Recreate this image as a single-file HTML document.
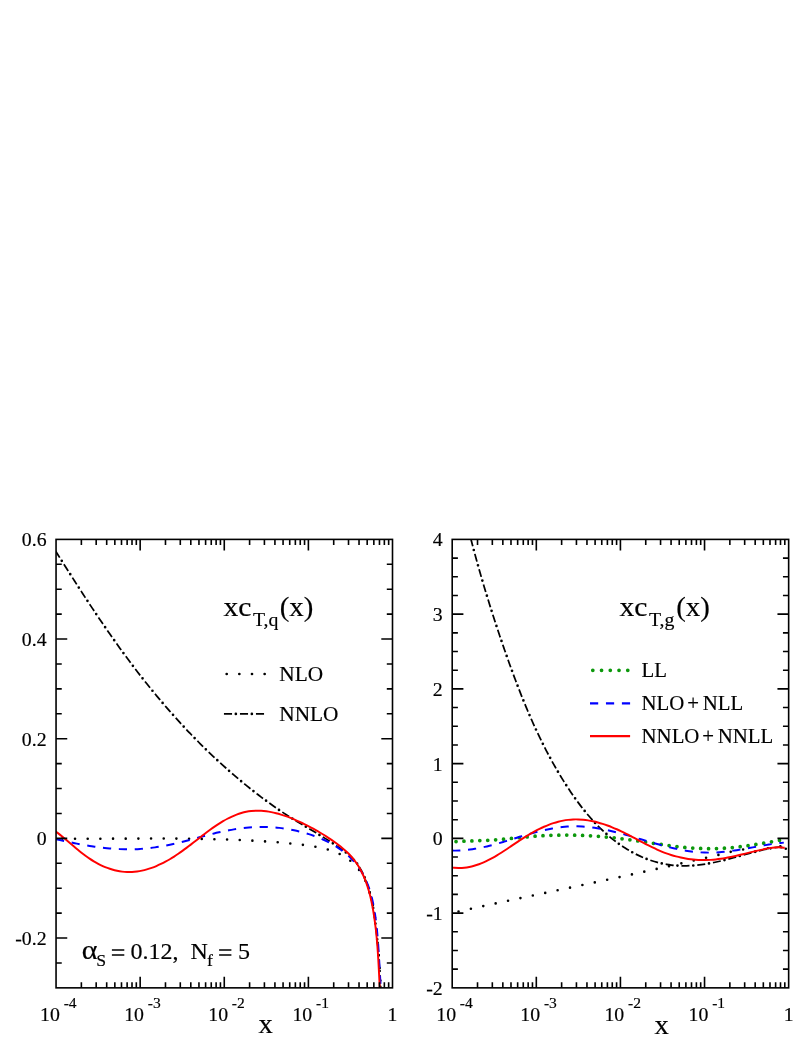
<!DOCTYPE html>
<html><head><meta charset="utf-8"><title>xc_T</title><style>html,body{margin:0;padding:0;background:#fff}svg{display:block;will-change:transform}text{font-family:"Liberation Serif",serif;fill:#000;stroke:#000;stroke-width:0.18px}</style></head><body>
<svg width="807" height="1044" viewBox="0 0 807 1044">
<defs><clipPath id="cl"><rect x="56.05" y="539.40" width="336.45" height="448.45"/></clipPath><clipPath id="cr"><rect x="452.20" y="539.40" width="336.45" height="448.45"/></clipPath></defs>
<g clip-path="url(#cl)" fill="none">
<path d="M49.82 838.44C50.66 838.46 53.16 838.49 54.82 838.51C56.49 838.53 58.16 838.55 59.82 838.57C61.49 838.59 63.16 838.60 64.83 838.62C66.49 838.63 68.16 838.64 69.83 838.65C71.49 838.66 73.16 838.67 74.83 838.68C76.50 838.69 78.16 838.69 79.83 838.70C81.50 838.70 83.16 838.71 84.83 838.71C86.50 838.71 88.17 838.71 89.83 838.71C91.50 838.71 93.17 838.71 94.83 838.71C96.50 838.71 98.17 838.71 99.84 838.71C101.50 838.70 103.17 838.70 104.84 838.70C106.50 838.69 108.17 838.69 109.84 838.68C111.51 838.68 113.17 838.67 114.84 838.67C116.51 838.66 118.17 838.66 119.84 838.65C121.51 838.65 123.18 838.64 124.84 838.63C126.51 838.63 128.18 838.62 129.84 838.62C131.51 838.61 133.18 838.60 134.85 838.60C136.51 838.59 138.18 838.59 139.85 838.59C141.51 838.58 143.18 838.58 144.85 838.57C146.52 838.57 148.18 838.57 149.85 838.57C151.52 838.56 153.18 838.56 154.85 838.56C156.52 838.56 158.18 838.56 159.85 838.57C161.52 838.57 163.19 838.57 164.85 838.57C166.52 838.58 168.19 838.58 169.85 838.59C171.52 838.60 173.19 838.60 174.86 838.61C176.52 838.62 178.19 838.63 179.86 838.65C181.52 838.66 183.19 838.67 184.86 838.69C186.53 838.70 188.19 838.72 189.86 838.74C191.53 838.76 193.19 838.78 194.86 838.81C196.53 838.83 198.19 838.85 199.86 838.88C201.53 838.91 203.20 838.94 204.86 838.97C206.53 839.00 208.20 839.04 209.86 839.08C211.53 839.11 213.20 839.15 214.86 839.19C216.53 839.24 218.20 839.28 219.86 839.33C221.53 839.38 223.20 839.43 224.86 839.48C226.53 839.53 228.19 839.59 229.86 839.65C231.53 839.71 233.19 839.77 234.86 839.83C236.52 839.90 238.19 839.97 239.86 840.04C241.52 840.11 243.19 840.19 244.85 840.27C246.52 840.35 248.18 840.43 249.85 840.51C251.51 840.60 253.18 840.69 254.84 840.78C256.51 840.88 258.17 840.97 259.83 841.08C261.50 841.18 263.16 841.28 264.83 841.39C266.49 841.50 268.15 841.61 269.82 841.73C271.48 841.85 273.14 841.97 274.80 842.09C276.47 842.22 278.13 842.35 279.79 842.49C281.45 842.62 283.11 842.76 284.77 842.91C286.43 843.06 288.09 843.21 289.75 843.37C291.41 843.54 293.07 843.71 294.73 843.89C296.38 844.07 298.04 844.26 299.70 844.46C301.35 844.67 303.00 844.88 304.65 845.11C306.31 845.34 307.96 845.58 309.60 845.84C311.25 846.10 312.89 846.37 314.54 846.66C316.18 846.95 317.82 847.25 319.45 847.59C321.08 847.92 322.72 848.27 324.34 848.66C325.95 849.06 327.57 849.48 329.17 849.95C330.76 850.43 332.35 850.94 333.92 851.52C335.48 852.10 337.03 852.72 338.54 853.42C340.05 854.12 341.54 854.89 342.98 855.72C344.42 856.55 345.84 857.44 347.20 858.40C348.56 859.36 349.89 860.38 351.15 861.46C352.42 862.54 353.65 863.68 354.80 864.88C355.96 866.07 357.07 867.33 358.10 868.63C359.14 869.94 360.10 871.30 361.01 872.70C361.91 874.10 362.74 875.55 363.52 877.02C364.30 878.49 365.02 880.00 365.69 881.53C366.37 883.05 366.99 884.60 367.57 886.16C368.16 887.72 368.70 889.30 369.21 890.89C369.72 892.47 370.19 894.07 370.64 895.68C371.08 897.29 371.49 898.90 371.88 900.53C372.26 902.15 372.61 903.78 372.94 905.41C373.27 907.05 373.57 908.69 373.86 910.33C374.14 911.97 374.40 913.62 374.64 915.27C374.89 916.92 375.11 918.57 375.32 920.22C375.53 921.88 375.73 923.53 375.91 925.19C376.10 926.85 376.27 928.50 376.44 930.16C376.61 931.82 376.77 933.48 376.93 935.14C377.08 936.80 377.24 938.46 377.39 940.12C377.54 941.78 377.70 943.44 377.84 945.10C377.99 946.76 378.14 948.42 378.29 950.08C378.43 951.74 378.58 953.40 378.71 955.07C378.85 956.73 378.99 958.39 379.11 960.05C379.24 961.71 379.37 963.38 379.48 965.04C379.60 966.70 379.71 968.37 379.82 970.03C379.92 971.69 380.02 973.36 380.11 975.02C380.20 976.69 380.28 978.35 380.35 980.02C380.42 981.68 380.49 983.35 380.54 985.02C380.59 986.68 380.63 988.35 380.66 990.02C380.70 991.68 380.71 994.18 380.72 995.02" stroke="#000" stroke-width="2.6" stroke-linecap="round" stroke-dasharray="0 12.672" stroke-dashoffset="0.139"/>
<path d="M50.20 542.37C50.65 543.09 51.98 545.22 52.87 546.65C53.77 548.07 54.66 549.50 55.55 550.92C56.44 552.35 57.34 553.77 58.23 555.19C59.12 556.62 60.02 558.04 60.91 559.46C61.81 560.88 62.70 562.31 63.60 563.73C64.50 565.15 65.40 566.57 66.29 567.99C67.19 569.41 68.09 570.83 68.99 572.25C69.90 573.67 70.80 575.08 71.70 576.50C72.61 577.92 73.51 579.33 74.42 580.75C75.32 582.17 76.23 583.58 77.14 584.99C78.05 586.41 78.96 587.82 79.87 589.23C80.79 590.64 81.70 592.05 82.62 593.46C83.53 594.87 84.45 596.28 85.37 597.69C86.29 599.09 87.21 600.50 88.13 601.90C89.06 603.31 89.98 604.71 90.91 606.11C91.84 607.51 92.77 608.91 93.70 610.31C94.63 611.71 95.57 613.11 96.50 614.50C97.44 615.90 98.38 617.29 99.32 618.68C100.26 620.08 101.21 621.47 102.15 622.85C103.10 624.24 104.05 625.63 105.00 627.02C105.95 628.40 106.91 629.78 107.87 631.17C108.82 632.55 109.78 633.93 110.75 635.30C111.71 636.68 112.68 638.06 113.64 639.43C114.61 640.80 115.59 642.17 116.56 643.54C117.54 644.91 118.52 646.28 119.50 647.64C120.48 649.01 121.46 650.37 122.45 651.73C123.44 653.09 124.43 654.44 125.43 655.80C126.42 657.15 127.42 658.50 128.42 659.85C129.43 661.20 130.43 662.55 131.44 663.89C132.45 665.23 133.47 666.58 134.48 667.91C135.50 669.25 136.52 670.59 137.55 671.92C138.57 673.25 139.60 674.58 140.63 675.91C141.66 677.23 142.70 678.56 143.74 679.88C144.78 681.20 145.83 682.51 146.87 683.83C147.92 685.14 148.98 686.45 150.03 687.76C151.09 689.06 152.15 690.37 153.22 691.67C154.28 692.97 155.35 694.26 156.42 695.56C157.50 696.85 158.58 698.14 159.66 699.42C160.74 700.71 161.83 701.99 162.92 703.27C164.01 704.55 165.10 705.83 166.20 707.10C167.30 708.37 168.40 709.64 169.51 710.90C170.62 712.16 171.73 713.42 172.85 714.68C173.97 715.94 175.09 717.19 176.21 718.44C177.34 719.69 178.47 720.93 179.60 722.17C180.74 723.41 181.87 724.65 183.02 725.88C184.16 727.11 185.31 728.34 186.46 729.56C187.61 730.79 188.77 732.00 189.93 733.22C191.09 734.43 192.26 735.65 193.43 736.85C194.60 738.06 195.77 739.26 196.95 740.46C198.13 741.65 199.32 742.85 200.51 744.03C201.69 745.22 202.89 746.41 204.09 747.58C205.28 748.76 206.49 749.94 207.69 751.11C208.90 752.28 210.11 753.44 211.33 754.60C212.55 755.76 213.77 756.91 215.00 758.06C216.22 759.21 217.45 760.36 218.69 761.50C219.92 762.64 221.16 763.77 222.41 764.90C223.65 766.03 224.90 767.15 226.16 768.27C227.41 769.39 228.67 770.50 229.94 771.61C231.20 772.72 232.47 773.82 233.74 774.91C235.02 776.01 236.30 777.10 237.58 778.19C238.86 779.27 240.15 780.35 241.44 781.42C242.74 782.50 244.04 783.57 245.34 784.63C246.64 785.69 247.95 786.75 249.26 787.80C250.57 788.85 251.89 789.89 253.21 790.93C254.53 791.97 255.86 793.00 257.19 794.03C258.52 795.05 259.86 796.07 261.20 797.08C262.54 798.10 263.89 799.10 265.24 800.10C266.59 801.10 267.95 802.09 269.31 803.07C270.67 804.06 272.04 805.04 273.41 806.00C274.79 806.97 276.17 807.93 277.55 808.89C278.94 809.84 280.33 810.79 281.72 811.72C283.12 812.66 284.52 813.59 285.93 814.50C287.33 815.42 288.75 816.33 290.16 817.23C291.58 818.13 293.01 819.03 294.44 819.91C295.87 820.79 297.31 821.66 298.74 822.53C300.18 823.40 301.63 824.26 303.07 825.13C304.51 825.99 305.96 826.84 307.41 827.70C308.85 828.56 310.30 829.41 311.74 830.27C313.19 831.13 314.63 831.99 316.07 832.85C317.51 833.72 318.95 834.59 320.39 835.46C321.82 836.34 323.25 837.22 324.67 838.12C326.10 839.01 327.52 839.91 328.93 840.82C330.34 841.73 331.75 842.64 333.15 843.57C334.56 844.50 335.95 845.44 337.34 846.39C338.72 847.34 340.10 848.30 341.48 849.27C342.85 850.24 344.22 851.21 345.56 852.22C346.91 853.23 348.26 854.23 349.54 855.32C350.81 856.42 352.05 857.56 353.20 858.78C354.35 860.00 355.42 861.31 356.43 862.65C357.44 863.99 358.36 865.40 359.24 866.83C360.12 868.26 360.94 869.74 361.71 871.23C362.48 872.72 363.20 874.24 363.89 875.78C364.58 877.31 365.22 878.86 365.83 880.43C366.44 881.99 367.01 883.58 367.55 885.17C368.09 886.76 368.59 888.36 369.06 889.98C369.54 891.59 369.98 893.21 370.39 894.84C370.80 896.47 371.19 898.11 371.55 899.75C371.91 901.39 372.24 903.04 372.56 904.69C372.87 906.34 373.16 907.99 373.44 909.65C373.72 911.31 373.98 912.97 374.22 914.63C374.47 916.30 374.70 917.96 374.92 919.63C375.14 921.29 375.35 922.96 375.55 924.63C375.76 926.30 375.96 927.97 376.15 929.64C376.34 931.31 376.52 932.98 376.70 934.65C376.88 936.32 377.06 937.99 377.22 939.66C377.39 941.33 377.55 943.01 377.71 944.68C377.86 946.35 378.01 948.03 378.15 949.70C378.29 951.38 378.43 953.05 378.56 954.73C378.69 956.40 378.82 958.08 378.93 959.76C379.05 961.43 379.16 963.11 379.27 964.79C379.38 966.47 379.48 968.14 379.57 969.82C379.67 971.50 379.76 973.18 379.84 974.86C379.92 976.53 380.00 978.21 380.07 979.89C380.14 981.57 380.21 983.25 380.27 984.93C380.32 986.61 380.38 988.29 380.43 989.97C380.47 991.65 380.53 994.17 380.55 995.01" stroke="#000" stroke-width="1.75" stroke-dasharray="8.026 7.828" stroke-dashoffset="5.923"/><path d="M50.20 542.37C50.65 543.09 51.98 545.22 52.87 546.65C53.77 548.07 54.66 549.50 55.55 550.92C56.44 552.35 57.34 553.77 58.23 555.19C59.12 556.62 60.02 558.04 60.91 559.46C61.81 560.88 62.70 562.31 63.60 563.73C64.50 565.15 65.40 566.57 66.29 567.99C67.19 569.41 68.09 570.83 68.99 572.25C69.90 573.67 70.80 575.08 71.70 576.50C72.61 577.92 73.51 579.33 74.42 580.75C75.32 582.17 76.23 583.58 77.14 584.99C78.05 586.41 78.96 587.82 79.87 589.23C80.79 590.64 81.70 592.05 82.62 593.46C83.53 594.87 84.45 596.28 85.37 597.69C86.29 599.09 87.21 600.50 88.13 601.90C89.06 603.31 89.98 604.71 90.91 606.11C91.84 607.51 92.77 608.91 93.70 610.31C94.63 611.71 95.57 613.11 96.50 614.50C97.44 615.90 98.38 617.29 99.32 618.68C100.26 620.08 101.21 621.47 102.15 622.85C103.10 624.24 104.05 625.63 105.00 627.02C105.95 628.40 106.91 629.78 107.87 631.17C108.82 632.55 109.78 633.93 110.75 635.30C111.71 636.68 112.68 638.06 113.64 639.43C114.61 640.80 115.59 642.17 116.56 643.54C117.54 644.91 118.52 646.28 119.50 647.64C120.48 649.01 121.46 650.37 122.45 651.73C123.44 653.09 124.43 654.44 125.43 655.80C126.42 657.15 127.42 658.50 128.42 659.85C129.43 661.20 130.43 662.55 131.44 663.89C132.45 665.23 133.47 666.58 134.48 667.91C135.50 669.25 136.52 670.59 137.55 671.92C138.57 673.25 139.60 674.58 140.63 675.91C141.66 677.23 142.70 678.56 143.74 679.88C144.78 681.20 145.83 682.51 146.87 683.83C147.92 685.14 148.98 686.45 150.03 687.76C151.09 689.06 152.15 690.37 153.22 691.67C154.28 692.97 155.35 694.26 156.42 695.56C157.50 696.85 158.58 698.14 159.66 699.42C160.74 700.71 161.83 701.99 162.92 703.27C164.01 704.55 165.10 705.83 166.20 707.10C167.30 708.37 168.40 709.64 169.51 710.90C170.62 712.16 171.73 713.42 172.85 714.68C173.97 715.94 175.09 717.19 176.21 718.44C177.34 719.69 178.47 720.93 179.60 722.17C180.74 723.41 181.87 724.65 183.02 725.88C184.16 727.11 185.31 728.34 186.46 729.56C187.61 730.79 188.77 732.00 189.93 733.22C191.09 734.43 192.26 735.65 193.43 736.85C194.60 738.06 195.77 739.26 196.95 740.46C198.13 741.65 199.32 742.85 200.51 744.03C201.69 745.22 202.89 746.41 204.09 747.58C205.28 748.76 206.49 749.94 207.69 751.11C208.90 752.28 210.11 753.44 211.33 754.60C212.55 755.76 213.77 756.91 215.00 758.06C216.22 759.21 217.45 760.36 218.69 761.50C219.92 762.64 221.16 763.77 222.41 764.90C223.65 766.03 224.90 767.15 226.16 768.27C227.41 769.39 228.67 770.50 229.94 771.61C231.20 772.72 232.47 773.82 233.74 774.91C235.02 776.01 236.30 777.10 237.58 778.19C238.86 779.27 240.15 780.35 241.44 781.42C242.74 782.50 244.04 783.57 245.34 784.63C246.64 785.69 247.95 786.75 249.26 787.80C250.57 788.85 251.89 789.89 253.21 790.93C254.53 791.97 255.86 793.00 257.19 794.03C258.52 795.05 259.86 796.07 261.20 797.08C262.54 798.10 263.89 799.10 265.24 800.10C266.59 801.10 267.95 802.09 269.31 803.07C270.67 804.06 272.04 805.04 273.41 806.00C274.79 806.97 276.17 807.93 277.55 808.89C278.94 809.84 280.33 810.79 281.72 811.72C283.12 812.66 284.52 813.59 285.93 814.50C287.33 815.42 288.75 816.33 290.16 817.23C291.58 818.13 293.01 819.03 294.44 819.91C295.87 820.79 297.31 821.66 298.74 822.53C300.18 823.40 301.63 824.26 303.07 825.13C304.51 825.99 305.96 826.84 307.41 827.70C308.85 828.56 310.30 829.41 311.74 830.27C313.19 831.13 314.63 831.99 316.07 832.85C317.51 833.72 318.95 834.59 320.39 835.46C321.82 836.34 323.25 837.22 324.67 838.12C326.10 839.01 327.52 839.91 328.93 840.82C330.34 841.73 331.75 842.64 333.15 843.57C334.56 844.50 335.95 845.44 337.34 846.39C338.72 847.34 340.10 848.30 341.48 849.27C342.85 850.24 344.22 851.21 345.56 852.22C346.91 853.23 348.26 854.23 349.54 855.32C350.81 856.42 352.05 857.56 353.20 858.78C354.35 860.00 355.42 861.31 356.43 862.65C357.44 863.99 358.36 865.40 359.24 866.83C360.12 868.26 360.94 869.74 361.71 871.23C362.48 872.72 363.20 874.24 363.89 875.78C364.58 877.31 365.22 878.86 365.83 880.43C366.44 881.99 367.01 883.58 367.55 885.17C368.09 886.76 368.59 888.36 369.06 889.98C369.54 891.59 369.98 893.21 370.39 894.84C370.80 896.47 371.19 898.11 371.55 899.75C371.91 901.39 372.24 903.04 372.56 904.69C372.87 906.34 373.16 907.99 373.44 909.65C373.72 911.31 373.98 912.97 374.22 914.63C374.47 916.30 374.70 917.96 374.92 919.63C375.14 921.29 375.35 922.96 375.55 924.63C375.76 926.30 375.96 927.97 376.15 929.64C376.34 931.31 376.52 932.98 376.70 934.65C376.88 936.32 377.06 937.99 377.22 939.66C377.39 941.33 377.55 943.01 377.71 944.68C377.86 946.35 378.01 948.03 378.15 949.70C378.29 951.38 378.43 953.05 378.56 954.73C378.69 956.40 378.82 958.08 378.93 959.76C379.05 961.43 379.16 963.11 379.27 964.79C379.38 966.47 379.48 968.14 379.57 969.82C379.67 971.50 379.76 973.18 379.84 974.86C379.92 976.53 380.00 978.21 380.07 979.89C380.14 981.57 380.21 983.25 380.27 984.93C380.32 986.61 380.38 988.29 380.43 989.97C380.47 991.65 380.53 994.17 380.55 995.01" stroke="#000" stroke-width="2.7" stroke-linecap="round" stroke-dasharray="0 15.854" stroke-dashoffset="9.936"/>
<path d="M50.07 837.75C50.89 837.94 53.35 838.53 54.99 838.91C56.63 839.29 58.27 839.66 59.92 840.04C61.56 840.41 63.20 840.78 64.85 841.14C66.50 841.50 68.14 841.85 69.79 842.20C71.44 842.54 73.09 842.88 74.74 843.21C76.39 843.54 78.05 843.87 79.70 844.18C81.36 844.49 83.01 844.79 84.67 845.08C86.33 845.37 87.99 845.65 89.66 845.92C91.32 846.19 92.99 846.44 94.65 846.69C96.32 846.93 97.99 847.16 99.66 847.37C101.33 847.58 103.00 847.78 104.68 847.96C106.35 848.15 108.03 848.31 109.71 848.46C111.39 848.61 113.07 848.74 114.75 848.85C116.43 848.96 118.11 849.06 119.79 849.13C121.48 849.20 123.16 849.26 124.84 849.29C126.53 849.32 128.21 849.33 129.90 849.31C131.58 849.30 133.27 849.26 134.95 849.20C136.63 849.14 138.32 849.05 140.00 848.94C141.68 848.83 143.36 848.70 145.03 848.54C146.71 848.39 148.39 848.21 150.06 848.02C151.73 847.82 153.40 847.60 155.07 847.36C156.74 847.13 158.40 846.87 160.07 846.59C161.73 846.32 163.39 846.02 165.04 845.71C166.70 845.40 168.35 845.07 170.00 844.73C171.65 844.39 173.30 844.03 174.94 843.65C176.58 843.28 178.22 842.89 179.86 842.49C181.49 842.09 183.12 841.67 184.76 841.25C186.39 840.83 188.01 840.39 189.64 839.96C191.27 839.52 192.89 839.07 194.52 838.63C196.14 838.19 197.77 837.74 199.39 837.29C201.02 836.85 202.64 836.41 204.27 835.97C205.90 835.54 207.52 835.10 209.16 834.69C210.79 834.27 212.42 833.85 214.06 833.46C215.70 833.06 217.34 832.68 218.98 832.31C220.62 831.94 222.27 831.58 223.92 831.24C225.57 830.90 227.22 830.58 228.88 830.27C230.54 829.97 232.20 829.68 233.86 829.41C235.52 829.14 237.19 828.88 238.86 828.65C240.52 828.43 242.20 828.21 243.87 828.03C245.54 827.84 247.22 827.68 248.90 827.54C250.58 827.39 252.26 827.28 253.94 827.19C255.62 827.10 257.31 827.03 258.99 826.99C260.67 826.95 262.36 826.94 264.04 826.96C265.73 826.97 267.41 827.02 269.10 827.09C270.78 827.17 272.46 827.27 274.14 827.40C275.82 827.53 277.50 827.70 279.17 827.88C280.84 828.07 282.52 828.29 284.18 828.53C285.85 828.78 287.51 829.05 289.17 829.34C290.83 829.64 292.48 829.96 294.13 830.31C295.78 830.66 297.42 831.04 299.06 831.44C300.69 831.84 302.32 832.27 303.95 832.72C305.57 833.17 307.18 833.65 308.79 834.15C310.40 834.66 312.00 835.19 313.59 835.75C315.17 836.31 316.75 836.90 318.32 837.52C319.88 838.15 321.44 838.80 322.97 839.49C324.51 840.18 326.03 840.90 327.53 841.66C329.04 842.42 330.52 843.22 331.99 844.05C333.45 844.89 334.89 845.76 336.31 846.67C337.73 847.58 339.13 848.52 340.49 849.51C341.86 850.49 343.20 851.51 344.51 852.57C345.82 853.63 347.10 854.73 348.34 855.87C349.58 857.01 350.79 858.18 351.96 859.40C353.12 860.61 354.25 861.86 355.33 863.15C356.42 864.44 357.46 865.77 358.44 867.14C359.43 868.50 360.37 869.90 361.26 871.33C362.14 872.77 362.97 874.23 363.76 875.72C364.54 877.21 365.27 878.74 365.96 880.27C366.65 881.81 367.29 883.37 367.89 884.94C368.49 886.52 369.04 888.11 369.56 889.71C370.09 891.31 370.57 892.93 371.02 894.55C371.47 896.17 371.88 897.81 372.27 899.45C372.66 901.08 373.01 902.73 373.35 904.38C373.68 906.03 373.98 907.69 374.27 909.35C374.56 911.01 374.82 912.68 375.07 914.34C375.32 916.01 375.55 917.68 375.76 919.35C375.98 921.02 376.18 922.69 376.37 924.37C376.56 926.04 376.73 927.71 376.90 929.39C377.07 931.07 377.23 932.74 377.38 934.42C377.53 936.10 377.67 937.78 377.81 939.46C377.95 941.14 378.07 942.82 378.19 944.50C378.32 946.18 378.43 947.86 378.54 949.54C378.65 951.22 378.76 952.90 378.86 954.58C378.96 956.26 379.06 957.94 379.15 959.63C379.25 961.31 379.34 962.99 379.43 964.67C379.53 966.35 379.62 968.04 379.71 969.72C379.80 971.40 379.89 973.08 379.98 974.77C380.08 976.45 380.17 978.13 380.27 979.81C380.37 981.49 380.47 983.17 380.57 984.86C380.68 986.54 380.78 988.22 380.90 989.90C381.01 991.58 381.20 994.10 381.26 994.94" stroke="#0000ff" stroke-width="1.95" stroke-dasharray="8.2 7.7" stroke-dashoffset="9.709"/>
<path d="M50.06 827.55C50.75 828.02 52.86 829.40 54.23 830.37C55.59 831.34 56.93 832.35 58.26 833.37C59.59 834.40 60.90 835.45 62.20 836.51C63.50 837.57 64.78 838.65 66.06 839.74C67.34 840.82 68.61 841.92 69.89 843.01C71.16 844.10 72.43 845.20 73.71 846.28C74.99 847.37 76.27 848.46 77.56 849.53C78.85 850.60 80.15 851.66 81.47 852.70C82.78 853.74 84.11 854.76 85.47 855.76C86.82 856.75 88.19 857.72 89.58 858.65C90.97 859.59 92.39 860.49 93.83 861.35C95.27 862.21 96.73 863.04 98.22 863.82C99.70 864.59 101.21 865.34 102.74 866.02C104.27 866.71 105.82 867.36 107.39 867.94C108.96 868.53 110.55 869.07 112.16 869.54C113.77 870.02 115.40 870.44 117.04 870.79C118.68 871.13 120.34 871.42 122.00 871.63C123.66 871.84 125.34 871.99 127.01 872.05C128.69 872.11 130.37 872.09 132.05 872.01C133.72 871.92 135.39 871.74 137.05 871.51C138.71 871.28 140.37 870.98 142.01 870.62C143.64 870.27 145.27 869.85 146.88 869.39C148.50 868.92 150.09 868.40 151.68 867.85C153.26 867.29 154.82 866.68 156.37 866.03C157.92 865.39 159.45 864.70 160.96 863.98C162.48 863.25 163.97 862.49 165.45 861.69C166.93 860.90 168.39 860.07 169.83 859.22C171.28 858.36 172.70 857.48 174.11 856.57C175.52 855.67 176.92 854.73 178.30 853.79C179.69 852.84 181.06 851.87 182.42 850.89C183.78 849.91 185.13 848.91 186.47 847.90C187.81 846.90 189.15 845.88 190.48 844.86C191.81 843.83 193.13 842.80 194.46 841.78C195.78 840.75 197.11 839.71 198.43 838.68C199.75 837.65 201.08 836.62 202.41 835.60C203.74 834.57 205.07 833.55 206.41 832.55C207.75 831.54 209.10 830.54 210.46 829.55C211.82 828.57 213.18 827.60 214.57 826.65C215.95 825.70 217.34 824.76 218.75 823.85C220.17 822.95 221.59 822.06 223.04 821.21C224.48 820.36 225.94 819.53 227.43 818.75C228.91 817.97 230.41 817.21 231.94 816.52C233.46 815.82 235.01 815.16 236.58 814.57C238.15 813.97 239.74 813.43 241.34 812.95C242.95 812.48 244.58 812.07 246.23 811.74C247.87 811.41 249.53 811.15 251.20 810.98C252.87 810.80 254.55 810.71 256.22 810.68C257.90 810.65 259.58 810.71 261.25 810.81C262.93 810.92 264.60 811.09 266.26 811.31C267.92 811.54 269.58 811.82 271.23 812.14C272.87 812.46 274.51 812.84 276.13 813.25C277.76 813.66 279.38 814.12 280.98 814.60C282.59 815.09 284.18 815.61 285.77 816.17C287.35 816.72 288.92 817.30 290.49 817.91C292.05 818.52 293.60 819.16 295.15 819.81C296.69 820.47 298.22 821.16 299.75 821.86C301.27 822.56 302.79 823.28 304.29 824.02C305.80 824.75 307.30 825.51 308.79 826.28C310.28 827.06 311.76 827.85 313.23 828.66C314.69 829.47 316.15 830.30 317.60 831.14C319.05 831.98 320.49 832.85 321.92 833.72C323.35 834.60 324.77 835.49 326.19 836.40C327.60 837.31 329.00 838.23 330.39 839.17C331.78 840.11 333.16 841.06 334.53 842.03C335.90 843.01 337.25 844.00 338.58 845.02C339.92 846.04 341.23 847.08 342.52 848.15C343.81 849.23 345.08 850.33 346.30 851.47C347.53 852.62 348.73 853.79 349.88 855.01C351.03 856.23 352.15 857.49 353.21 858.79C354.26 860.09 355.27 861.43 356.23 862.81C357.19 864.18 358.10 865.60 358.96 867.04C359.82 868.48 360.63 869.95 361.40 871.44C362.16 872.93 362.88 874.45 363.56 875.98C364.24 877.52 364.88 879.07 365.48 880.64C366.08 882.20 366.64 883.79 367.17 885.38C367.70 886.97 368.19 888.57 368.66 890.18C369.13 891.80 369.56 893.42 369.97 895.04C370.38 896.67 370.76 898.31 371.12 899.94C371.49 901.58 371.82 903.23 372.14 904.87C372.47 906.52 372.77 908.17 373.05 909.82C373.34 911.48 373.61 913.13 373.87 914.79C374.13 916.45 374.37 918.11 374.60 919.77C374.84 921.43 375.06 923.09 375.27 924.76C375.47 926.42 375.67 928.09 375.86 929.76C376.04 931.43 376.22 933.09 376.39 934.76C376.55 936.43 376.71 938.10 376.86 939.77C377.01 941.45 377.15 943.12 377.28 944.79C377.41 946.46 377.54 948.14 377.66 949.81C377.78 951.48 377.89 953.16 378.00 954.83C378.10 956.51 378.21 958.18 378.31 959.86C378.40 961.53 378.50 963.21 378.59 964.88C378.68 966.56 378.77 968.23 378.86 969.91C378.95 971.58 379.03 973.26 379.12 974.93C379.20 976.61 379.29 978.29 379.37 979.96C379.46 981.64 379.54 983.31 379.63 984.99C379.72 986.66 379.81 988.34 379.90 990.01C379.99 991.69 380.14 994.20 380.18 995.04" stroke="#ff0000" stroke-width="1.95"/>
</g>
<g clip-path="url(#cr)" fill="none">
<path d="M446.09 914.35C446.91 914.16 449.37 913.60 451.01 913.23C452.65 912.86 454.29 912.50 455.93 912.13C457.57 911.76 459.22 911.39 460.86 911.03C462.50 910.66 464.14 910.30 465.78 909.94C467.43 909.57 469.07 909.21 470.71 908.85C472.35 908.49 474.00 908.13 475.64 907.77C477.28 907.41 478.93 907.05 480.57 906.69C482.21 906.33 483.86 905.97 485.50 905.62C487.14 905.26 488.79 904.90 490.43 904.55C492.07 904.19 493.72 903.84 495.36 903.48C497.01 903.13 498.65 902.78 500.30 902.42C501.94 902.07 503.58 901.72 505.23 901.37C506.87 901.01 508.52 900.66 510.16 900.31C511.81 899.96 513.45 899.61 515.10 899.26C516.74 898.91 518.39 898.56 520.03 898.21C521.68 897.86 523.32 897.51 524.97 897.17C526.62 896.82 528.26 896.47 529.91 896.12C531.55 895.77 533.20 895.42 534.84 895.08C536.49 894.73 538.13 894.38 539.78 894.03C541.43 893.69 543.07 893.34 544.72 892.99C546.36 892.65 548.01 892.30 549.65 891.95C551.30 891.61 552.95 891.26 554.59 890.91C556.24 890.56 557.88 890.22 559.53 889.87C561.17 889.52 562.82 889.18 564.47 888.83C566.11 888.48 567.76 888.14 569.40 887.79C571.05 887.44 572.69 887.09 574.34 886.75C575.99 886.40 577.63 886.05 579.28 885.70C580.92 885.35 582.57 885.00 584.21 884.66C585.86 884.31 587.50 883.96 589.15 883.61C590.79 883.26 592.44 882.91 594.08 882.56C595.73 882.21 597.37 881.86 599.02 881.51C600.66 881.15 602.31 880.80 603.95 880.45C605.60 880.10 607.24 879.74 608.89 879.39C610.53 879.04 612.17 878.68 613.82 878.33C615.46 877.97 617.11 877.62 618.75 877.26C620.39 876.91 622.04 876.55 623.68 876.19C625.32 875.84 626.97 875.48 628.61 875.12C630.25 874.76 631.90 874.40 633.54 874.04C635.18 873.68 636.83 873.32 638.47 872.96C640.11 872.59 641.75 872.23 643.40 871.87C645.04 871.50 646.68 871.14 648.32 870.77C649.96 870.41 651.60 870.04 653.25 869.68C654.89 869.31 656.53 868.94 658.17 868.58C659.81 868.21 661.45 867.84 663.09 867.47C664.73 867.10 666.38 866.73 668.02 866.36C669.66 865.99 671.30 865.62 672.94 865.25C674.58 864.88 676.22 864.51 677.86 864.14C679.50 863.77 681.14 863.40 682.78 863.02C684.42 862.65 686.06 862.28 687.70 861.91C689.34 861.53 690.98 861.16 692.62 860.79C694.26 860.41 695.90 860.04 697.54 859.67C699.18 859.29 700.82 858.92 702.46 858.54C704.10 858.17 705.74 857.80 707.38 857.42C709.02 857.05 710.66 856.67 712.30 856.30C713.94 855.92 715.58 855.55 717.22 855.17C718.86 854.80 720.50 854.43 722.13 854.04C723.77 853.66 725.41 853.27 727.04 852.86C728.67 852.44 730.29 851.98 731.91 851.54C733.53 851.10 735.14 850.57 736.78 850.24C738.43 849.91 740.11 849.58 741.77 849.54C743.44 849.50 745.13 849.77 746.79 850.00C748.45 850.23 750.08 850.75 751.75 850.94C753.41 851.14 755.11 851.29 756.77 851.17C758.43 851.04 760.09 850.61 761.72 850.19C763.34 849.78 764.92 849.17 766.53 848.67C768.13 848.17 769.72 847.60 771.35 847.20C772.98 846.80 774.64 846.38 776.31 846.28C777.97 846.18 779.72 846.18 781.32 846.57C782.92 846.97 785.13 848.30 785.89 848.65" stroke="#000" stroke-width="2.6" stroke-linecap="round" stroke-dasharray="0 12.666" stroke-dashoffset="12.571"/>
<circle cx="785.8" cy="848.7" r="1.3" fill="#000"/>
<path d="M467.22 524.49C467.42 525.30 468.03 527.74 468.43 529.36C468.84 530.98 469.25 532.60 469.66 534.22C470.08 535.84 470.49 537.46 470.91 539.08C471.33 540.70 471.76 542.32 472.18 543.94C472.61 545.56 473.04 547.17 473.47 548.79C473.90 550.41 474.33 552.02 474.77 553.64C475.21 555.25 475.65 556.86 476.09 558.48C476.53 560.09 476.98 561.70 477.43 563.31C477.88 564.93 478.33 566.54 478.79 568.15C479.24 569.76 479.70 571.36 480.16 572.97C480.62 574.58 481.08 576.19 481.55 577.79C482.02 579.40 482.49 581.01 482.96 582.61C483.43 584.22 483.91 585.82 484.38 587.42C484.86 589.03 485.34 590.63 485.83 592.23C486.31 593.83 486.80 595.43 487.28 597.03C487.77 598.63 488.27 600.23 488.76 601.83C489.26 603.43 489.75 605.02 490.25 606.62C490.75 608.22 491.26 609.81 491.76 611.41C492.27 613.00 492.78 614.59 493.29 616.19C493.80 617.78 494.31 619.37 494.83 620.96C495.35 622.55 495.87 624.14 496.39 625.73C496.91 627.32 497.44 628.91 497.96 630.50C498.49 632.08 499.02 633.67 499.55 635.26C500.09 636.84 500.62 638.43 501.16 640.01C501.70 641.60 502.24 643.18 502.78 644.76C503.33 646.34 503.87 647.92 504.42 649.50C504.97 651.08 505.52 652.66 506.08 654.24C506.63 655.82 507.19 657.40 507.75 658.97C508.31 660.55 508.87 662.13 509.43 663.70C510.00 665.28 510.57 666.85 511.14 668.42C511.71 669.99 512.28 671.56 512.86 673.13C513.44 674.70 514.02 676.27 514.61 677.84C515.19 679.41 515.78 680.97 516.38 682.54C516.97 684.10 517.57 685.66 518.17 687.22C518.77 688.78 519.38 690.34 519.99 691.90C520.60 693.46 521.21 695.01 521.83 696.57C522.46 698.12 523.08 699.67 523.71 701.22C524.34 702.77 524.98 704.32 525.62 705.86C526.26 707.41 526.90 708.95 527.56 710.49C528.21 712.03 528.86 713.57 529.53 715.11C530.19 716.64 530.86 718.17 531.54 719.71C532.21 721.24 532.89 722.76 533.58 724.29C534.27 725.81 534.96 727.34 535.66 728.85C536.36 730.37 537.07 731.89 537.79 733.40C538.50 734.91 539.22 736.42 539.95 737.93C540.68 739.44 541.41 740.94 542.16 742.44C542.90 743.94 543.65 745.43 544.41 746.92C545.16 748.41 545.93 749.90 546.70 751.39C547.47 752.87 548.25 754.35 549.04 755.82C549.83 757.30 550.63 758.77 551.43 760.24C552.24 761.70 553.05 763.17 553.87 764.62C554.69 766.08 555.52 767.53 556.36 768.98C557.20 770.43 558.04 771.87 558.90 773.31C559.75 774.75 560.62 776.18 561.49 777.61C562.36 779.03 563.25 780.46 564.14 781.87C565.03 783.29 565.93 784.70 566.84 786.10C567.74 787.51 568.66 788.90 569.59 790.30C570.52 791.69 571.46 793.07 572.41 794.45C573.36 795.83 574.32 797.20 575.29 798.56C576.26 799.92 577.24 801.27 578.24 802.62C579.24 803.96 580.24 805.30 581.27 806.62C582.29 807.94 583.32 809.26 584.37 810.56C585.42 811.86 586.48 813.16 587.56 814.44C588.64 815.72 589.73 816.98 590.84 818.24C591.95 819.49 593.07 820.73 594.21 821.96C595.34 823.18 596.50 824.40 597.67 825.59C598.84 826.78 600.03 827.96 601.23 829.12C602.44 830.29 603.66 831.43 604.89 832.55C606.13 833.68 607.39 834.79 608.66 835.87C609.93 836.96 611.22 838.02 612.53 839.07C613.84 840.11 615.16 841.13 616.50 842.13C617.85 843.13 619.21 844.10 620.58 845.05C621.96 846.00 623.35 846.93 624.77 847.83C626.18 848.72 627.60 849.60 629.05 850.44C630.49 851.28 631.95 852.10 633.43 852.89C634.91 853.67 636.40 854.43 637.91 855.15C639.41 855.88 640.94 856.57 642.47 857.23C644.01 857.89 645.56 858.52 647.13 859.11C648.69 859.70 650.27 860.25 651.86 860.77C653.45 861.28 655.06 861.76 656.67 862.20C658.29 862.64 659.91 863.04 661.55 863.40C663.18 863.75 664.83 864.07 666.47 864.34C668.12 864.62 669.78 864.85 671.44 865.04C673.10 865.24 674.77 865.39 676.44 865.51C678.11 865.63 679.78 865.71 681.45 865.76C683.12 865.81 684.80 865.81 686.47 865.79C688.14 865.76 689.81 865.70 691.48 865.61C693.15 865.52 694.82 865.39 696.49 865.23C698.15 865.07 699.81 864.87 701.47 864.66C703.13 864.44 704.79 864.19 706.44 863.91C708.09 863.64 709.73 863.34 711.37 863.02C713.02 862.71 714.65 862.36 716.29 862.01C717.92 861.65 719.55 861.27 721.18 860.89C722.81 860.50 724.43 860.09 726.05 859.68C727.67 859.27 729.29 858.84 730.91 858.41C732.52 857.98 734.14 857.54 735.75 857.10C737.36 856.66 738.98 856.21 740.59 855.77C742.20 855.32 743.81 854.87 745.43 854.43C747.04 853.99 748.65 853.55 750.27 853.12C751.89 852.68 753.50 852.25 755.12 851.84C756.74 851.42 758.36 851.01 759.99 850.62C761.62 850.22 763.24 849.84 764.88 849.47C766.51 849.11 768.14 848.75 769.79 848.43C771.43 848.12 773.07 847.76 774.73 847.57C776.39 847.37 778.07 847.19 779.73 847.26C781.39 847.34 783.85 847.90 784.68 848.03" stroke="#000" stroke-width="1.75" stroke-dasharray="8.023 7.825" stroke-dashoffset="1.332"/><path d="M467.22 524.49C467.42 525.30 468.03 527.74 468.43 529.36C468.84 530.98 469.25 532.60 469.66 534.22C470.08 535.84 470.49 537.46 470.91 539.08C471.33 540.70 471.76 542.32 472.18 543.94C472.61 545.56 473.04 547.17 473.47 548.79C473.90 550.41 474.33 552.02 474.77 553.64C475.21 555.25 475.65 556.86 476.09 558.48C476.53 560.09 476.98 561.70 477.43 563.31C477.88 564.93 478.33 566.54 478.79 568.15C479.24 569.76 479.70 571.36 480.16 572.97C480.62 574.58 481.08 576.19 481.55 577.79C482.02 579.40 482.49 581.01 482.96 582.61C483.43 584.22 483.91 585.82 484.38 587.42C484.86 589.03 485.34 590.63 485.83 592.23C486.31 593.83 486.80 595.43 487.28 597.03C487.77 598.63 488.27 600.23 488.76 601.83C489.26 603.43 489.75 605.02 490.25 606.62C490.75 608.22 491.26 609.81 491.76 611.41C492.27 613.00 492.78 614.59 493.29 616.19C493.80 617.78 494.31 619.37 494.83 620.96C495.35 622.55 495.87 624.14 496.39 625.73C496.91 627.32 497.44 628.91 497.96 630.50C498.49 632.08 499.02 633.67 499.55 635.26C500.09 636.84 500.62 638.43 501.16 640.01C501.70 641.60 502.24 643.18 502.78 644.76C503.33 646.34 503.87 647.92 504.42 649.50C504.97 651.08 505.52 652.66 506.08 654.24C506.63 655.82 507.19 657.40 507.75 658.97C508.31 660.55 508.87 662.13 509.43 663.70C510.00 665.28 510.57 666.85 511.14 668.42C511.71 669.99 512.28 671.56 512.86 673.13C513.44 674.70 514.02 676.27 514.61 677.84C515.19 679.41 515.78 680.97 516.38 682.54C516.97 684.10 517.57 685.66 518.17 687.22C518.77 688.78 519.38 690.34 519.99 691.90C520.60 693.46 521.21 695.01 521.83 696.57C522.46 698.12 523.08 699.67 523.71 701.22C524.34 702.77 524.98 704.32 525.62 705.86C526.26 707.41 526.90 708.95 527.56 710.49C528.21 712.03 528.86 713.57 529.53 715.11C530.19 716.64 530.86 718.17 531.54 719.71C532.21 721.24 532.89 722.76 533.58 724.29C534.27 725.81 534.96 727.34 535.66 728.85C536.36 730.37 537.07 731.89 537.79 733.40C538.50 734.91 539.22 736.42 539.95 737.93C540.68 739.44 541.41 740.94 542.16 742.44C542.90 743.94 543.65 745.43 544.41 746.92C545.16 748.41 545.93 749.90 546.70 751.39C547.47 752.87 548.25 754.35 549.04 755.82C549.83 757.30 550.63 758.77 551.43 760.24C552.24 761.70 553.05 763.17 553.87 764.62C554.69 766.08 555.52 767.53 556.36 768.98C557.20 770.43 558.04 771.87 558.90 773.31C559.75 774.75 560.62 776.18 561.49 777.61C562.36 779.03 563.25 780.46 564.14 781.87C565.03 783.29 565.93 784.70 566.84 786.10C567.74 787.51 568.66 788.90 569.59 790.30C570.52 791.69 571.46 793.07 572.41 794.45C573.36 795.83 574.32 797.20 575.29 798.56C576.26 799.92 577.24 801.27 578.24 802.62C579.24 803.96 580.24 805.30 581.27 806.62C582.29 807.94 583.32 809.26 584.37 810.56C585.42 811.86 586.48 813.16 587.56 814.44C588.64 815.72 589.73 816.98 590.84 818.24C591.95 819.49 593.07 820.73 594.21 821.96C595.34 823.18 596.50 824.40 597.67 825.59C598.84 826.78 600.03 827.96 601.23 829.12C602.44 830.29 603.66 831.43 604.89 832.55C606.13 833.68 607.39 834.79 608.66 835.87C609.93 836.96 611.22 838.02 612.53 839.07C613.84 840.11 615.16 841.13 616.50 842.13C617.85 843.13 619.21 844.10 620.58 845.05C621.96 846.00 623.35 846.93 624.77 847.83C626.18 848.72 627.60 849.60 629.05 850.44C630.49 851.28 631.95 852.10 633.43 852.89C634.91 853.67 636.40 854.43 637.91 855.15C639.41 855.88 640.94 856.57 642.47 857.23C644.01 857.89 645.56 858.52 647.13 859.11C648.69 859.70 650.27 860.25 651.86 860.77C653.45 861.28 655.06 861.76 656.67 862.20C658.29 862.64 659.91 863.04 661.55 863.40C663.18 863.75 664.83 864.07 666.47 864.34C668.12 864.62 669.78 864.85 671.44 865.04C673.10 865.24 674.77 865.39 676.44 865.51C678.11 865.63 679.78 865.71 681.45 865.76C683.12 865.81 684.80 865.81 686.47 865.79C688.14 865.76 689.81 865.70 691.48 865.61C693.15 865.52 694.82 865.39 696.49 865.23C698.15 865.07 699.81 864.87 701.47 864.66C703.13 864.44 704.79 864.19 706.44 863.91C708.09 863.64 709.73 863.34 711.37 863.02C713.02 862.71 714.65 862.36 716.29 862.01C717.92 861.65 719.55 861.27 721.18 860.89C722.81 860.50 724.43 860.09 726.05 859.68C727.67 859.27 729.29 858.84 730.91 858.41C732.52 857.98 734.14 857.54 735.75 857.10C737.36 856.66 738.98 856.21 740.59 855.77C742.20 855.32 743.81 854.87 745.43 854.43C747.04 853.99 748.65 853.55 750.27 853.12C751.89 852.68 753.50 852.25 755.12 851.84C756.74 851.42 758.36 851.01 759.99 850.62C761.62 850.22 763.24 849.84 764.88 849.47C766.51 849.11 768.14 848.75 769.79 848.43C771.43 848.12 773.07 847.76 774.73 847.57C776.39 847.37 778.07 847.19 779.73 847.26C781.39 847.34 783.85 847.90 784.68 848.03" stroke="#000" stroke-width="2.7" stroke-linecap="round" stroke-dasharray="0 15.848" stroke-dashoffset="5.343"/>
<path d="M448.20 841.99C449.04 841.94 451.56 841.77 453.24 841.68C454.92 841.58 456.61 841.50 458.29 841.42C459.97 841.35 461.66 841.28 463.34 841.21C465.02 841.14 466.71 841.08 468.39 841.02C470.08 840.96 471.76 840.90 473.44 840.84C475.13 840.78 476.81 840.73 478.49 840.66C480.18 840.60 481.86 840.53 483.55 840.46C485.23 840.38 486.91 840.31 488.59 840.22C490.28 840.13 491.96 840.03 493.64 839.93C495.32 839.82 497.00 839.70 498.68 839.57C500.36 839.44 502.04 839.30 503.72 839.15C505.40 839.00 507.08 838.84 508.75 838.68C510.43 838.52 512.11 838.36 513.79 838.19C515.46 838.03 517.14 837.86 518.82 837.69C520.49 837.52 522.17 837.36 523.85 837.20C525.52 837.04 527.20 836.88 528.88 836.73C530.56 836.58 532.24 836.44 533.92 836.31C535.60 836.18 537.28 836.05 538.96 835.94C540.64 835.83 542.32 835.73 544.00 835.65C545.69 835.56 547.37 835.48 549.05 835.41C550.74 835.35 552.42 835.29 554.11 835.24C555.79 835.20 557.48 835.16 559.16 835.14C560.84 835.11 562.53 835.10 564.21 835.09C565.90 835.09 567.58 835.10 569.27 835.11C570.95 835.13 572.64 835.16 574.32 835.19C576.01 835.23 577.69 835.27 579.38 835.33C581.06 835.39 582.74 835.45 584.43 835.53C586.11 835.60 587.79 835.69 589.48 835.78C591.16 835.88 592.84 835.98 594.52 836.09C596.20 836.21 597.88 836.33 599.56 836.46C601.24 836.59 602.92 836.73 604.60 836.88C606.28 837.03 607.96 837.19 609.63 837.36C611.31 837.53 612.99 837.70 614.66 837.89C616.33 838.07 618.01 838.27 619.68 838.47C621.35 838.67 623.03 838.88 624.70 839.10C626.37 839.32 628.04 839.55 629.71 839.78C631.38 840.01 633.04 840.25 634.71 840.49C636.38 840.73 638.05 840.98 639.71 841.23C641.38 841.48 643.04 841.73 644.71 841.98C646.38 842.23 648.04 842.49 649.71 842.74C651.37 842.99 653.04 843.24 654.71 843.49C656.37 843.74 658.04 843.99 659.71 844.23C661.37 844.48 663.04 844.72 664.71 844.95C666.38 845.18 668.05 845.41 669.72 845.63C671.39 845.85 673.06 846.06 674.73 846.27C676.41 846.47 678.08 846.67 679.76 846.85C681.43 847.04 683.11 847.21 684.78 847.37C686.46 847.53 688.14 847.68 689.82 847.82C691.50 847.95 693.18 848.07 694.86 848.18C696.54 848.28 698.23 848.37 699.91 848.44C701.59 848.51 703.28 848.56 704.96 848.60C706.65 848.63 708.33 848.65 710.02 848.64C711.70 848.64 713.39 848.61 715.07 848.57C716.75 848.52 718.44 848.46 720.12 848.38C721.80 848.30 723.49 848.20 725.17 848.09C726.85 847.97 728.53 847.84 730.21 847.70C731.89 847.56 733.56 847.40 735.24 847.22C736.92 847.05 738.59 846.87 740.26 846.67C741.94 846.47 743.61 846.26 745.28 846.04C746.95 845.82 748.62 845.58 750.29 845.34C751.95 845.10 753.62 844.85 755.29 844.59C756.95 844.33 758.61 844.06 760.28 843.78C761.94 843.51 763.60 843.22 765.26 842.93C766.92 842.64 768.58 842.35 770.23 842.04C771.89 841.74 773.55 841.43 775.20 841.12C776.86 840.81 779.34 840.34 780.17 840.18" stroke="#0c980c" stroke-width="3.75" stroke-linecap="round" stroke-dasharray="0 7.923" stroke-dashoffset="0.062"/>
<path d="M444.91 850.24C445.75 850.29 448.25 850.47 449.91 850.53C451.58 850.59 453.25 850.61 454.92 850.60C456.59 850.58 458.26 850.53 459.93 850.45C461.60 850.36 463.26 850.24 464.93 850.09C466.59 849.93 468.25 849.75 469.91 849.53C471.56 849.32 473.21 849.08 474.86 848.81C476.51 848.54 478.15 848.24 479.79 847.92C481.43 847.60 483.06 847.25 484.69 846.88C486.32 846.52 487.95 846.13 489.57 845.73C491.19 845.32 492.80 844.90 494.41 844.46C496.03 844.02 497.63 843.57 499.24 843.11C500.84 842.65 502.44 842.17 504.04 841.69C505.64 841.21 507.24 840.72 508.83 840.23C510.43 839.74 512.02 839.24 513.62 838.74C515.21 838.25 516.81 837.75 518.40 837.26C520.00 836.77 521.59 836.27 523.19 835.79C524.79 835.31 526.39 834.83 527.99 834.36C529.60 833.90 531.20 833.44 532.81 833.00C534.42 832.56 536.04 832.12 537.65 831.71C539.27 831.29 540.89 830.89 542.52 830.51C544.15 830.13 545.78 829.77 547.41 829.43C549.04 829.09 550.68 828.77 552.33 828.47C553.97 828.18 555.62 827.91 557.27 827.67C558.92 827.43 560.58 827.21 562.24 827.03C563.90 826.85 565.56 826.69 567.23 826.58C568.89 826.46 570.56 826.38 572.23 826.34C573.90 826.29 575.57 826.29 577.24 826.32C578.91 826.35 580.58 826.42 582.25 826.52C583.91 826.62 585.58 826.75 587.24 826.91C588.90 827.08 590.56 827.27 592.22 827.49C593.87 827.71 595.52 827.96 597.17 828.22C598.82 828.49 600.46 828.79 602.10 829.10C603.74 829.41 605.38 829.75 607.01 830.10C608.64 830.45 610.27 830.83 611.90 831.21C613.52 831.60 615.14 832.00 616.76 832.41C618.38 832.82 619.99 833.25 621.61 833.68C623.22 834.12 624.83 834.57 626.43 835.02C628.04 835.47 629.65 835.93 631.25 836.40C632.85 836.86 634.46 837.33 636.06 837.81C637.66 838.28 639.26 838.76 640.86 839.23C642.46 839.71 644.06 840.19 645.66 840.66C647.26 841.14 648.86 841.61 650.47 842.08C652.07 842.55 653.67 843.02 655.28 843.47C656.88 843.93 658.49 844.38 660.10 844.83C661.71 845.27 663.32 845.70 664.94 846.12C666.56 846.54 668.18 846.95 669.80 847.35C671.42 847.74 673.05 848.12 674.68 848.49C676.31 848.85 677.94 849.20 679.58 849.52C681.21 849.85 682.86 850.16 684.50 850.44C686.15 850.72 687.80 850.99 689.45 851.22C691.10 851.46 692.76 851.67 694.42 851.85C696.08 852.03 697.74 852.18 699.41 852.31C701.07 852.43 702.74 852.52 704.41 852.57C706.08 852.63 707.75 852.65 709.42 852.64C711.09 852.63 712.76 852.58 714.43 852.51C716.09 852.44 717.76 852.33 719.43 852.20C721.09 852.08 722.75 851.92 724.41 851.75C726.08 851.57 727.73 851.38 729.39 851.16C731.05 850.95 732.70 850.72 734.35 850.48C736.00 850.24 737.65 849.98 739.30 849.71C740.95 849.44 742.60 849.16 744.24 848.88C745.89 848.60 747.53 848.31 749.18 848.01C750.82 847.72 752.46 847.42 754.11 847.13C755.75 846.83 757.39 846.53 759.04 846.24C760.68 845.95 762.33 845.66 763.97 845.38C765.62 845.10 767.27 844.82 768.91 844.56C770.56 844.29 772.21 844.04 773.87 843.80C775.52 843.57 777.18 843.34 778.83 843.14C780.49 842.94 782.98 842.69 783.81 842.60" stroke="#0000ff" stroke-width="1.95" stroke-dasharray="8.2 7.7" stroke-dashoffset="8.636"/>
<path d="M444.44 866.25C445.26 866.41 447.70 866.99 449.35 867.25C451.00 867.52 452.67 867.72 454.33 867.84C456.00 867.96 457.68 868.02 459.35 867.99C461.02 867.96 462.69 867.86 464.35 867.68C466.01 867.51 467.67 867.25 469.31 866.93C470.95 866.62 472.58 866.22 474.19 865.77C475.80 865.32 477.39 864.80 478.97 864.23C480.54 863.67 482.09 863.04 483.63 862.37C485.16 861.71 486.67 860.99 488.17 860.24C489.67 859.50 491.14 858.71 492.61 857.90C494.07 857.09 495.51 856.24 496.95 855.38C498.38 854.52 499.80 853.64 501.21 852.74C502.62 851.84 504.02 850.93 505.42 850.01C506.82 849.09 508.21 848.15 509.59 847.22C510.98 846.29 512.37 845.35 513.75 844.42C515.14 843.48 516.53 842.54 517.92 841.62C519.31 840.69 520.71 839.77 522.11 838.86C523.52 837.95 524.93 837.05 526.35 836.18C527.78 835.30 529.21 834.44 530.66 833.60C532.10 832.76 533.56 831.94 535.04 831.15C536.51 830.36 537.99 829.59 539.50 828.85C541.00 828.12 542.51 827.41 544.04 826.74C545.58 826.06 547.12 825.42 548.68 824.82C550.24 824.22 551.82 823.66 553.41 823.14C555.00 822.63 556.61 822.15 558.23 821.73C559.84 821.31 561.48 820.94 563.12 820.63C564.76 820.31 566.42 820.05 568.08 819.85C569.73 819.66 571.41 819.52 573.08 819.45C574.74 819.38 576.42 819.37 578.09 819.42C579.76 819.47 581.43 819.58 583.10 819.74C584.76 819.91 586.42 820.12 588.07 820.38C589.73 820.64 591.37 820.96 593.01 821.31C594.64 821.66 596.27 822.05 597.88 822.48C599.50 822.91 601.11 823.39 602.70 823.89C604.30 824.39 605.88 824.93 607.45 825.50C609.03 826.06 610.59 826.66 612.14 827.29C613.69 827.91 615.23 828.57 616.76 829.25C618.29 829.93 619.80 830.63 621.31 831.35C622.82 832.07 624.32 832.81 625.82 833.57C627.31 834.32 628.80 835.09 630.28 835.86C631.76 836.63 633.24 837.42 634.71 838.21C636.19 838.99 637.66 839.78 639.14 840.57C640.62 841.36 642.09 842.15 643.57 842.92C645.05 843.70 646.54 844.47 648.03 845.23C649.52 845.99 651.01 846.74 652.52 847.46C654.03 848.19 655.54 848.90 657.07 849.59C658.59 850.27 660.13 850.93 661.68 851.56C663.23 852.19 664.79 852.80 666.36 853.36C667.94 853.93 669.52 854.46 671.12 854.96C672.72 855.45 674.33 855.91 675.94 856.34C677.56 856.76 679.19 857.15 680.82 857.50C682.46 857.85 684.10 858.17 685.75 858.45C687.40 858.73 689.06 858.97 690.72 859.18C692.37 859.38 694.04 859.56 695.71 859.69C697.37 859.82 699.05 859.92 700.72 859.97C702.39 860.03 704.06 860.05 705.73 860.03C707.41 860.01 709.08 859.95 710.75 859.85C712.42 859.75 714.08 859.61 715.75 859.43C717.41 859.25 719.07 859.04 720.72 858.80C722.38 858.56 724.03 858.28 725.68 857.98C727.32 857.69 728.96 857.36 730.60 857.03C732.24 856.69 733.87 856.32 735.50 855.96C737.13 855.59 738.76 855.20 740.39 854.81C742.01 854.42 743.64 854.01 745.26 853.62C746.89 853.22 748.51 852.81 750.13 852.41C751.76 852.01 753.38 851.61 755.01 851.23C756.64 850.84 758.27 850.46 759.90 850.10C761.53 849.74 763.17 849.38 764.81 849.06C766.45 848.73 768.09 848.40 769.74 848.15C771.39 847.89 773.05 847.65 774.72 847.51C776.38 847.38 778.06 847.29 779.73 847.34C781.40 847.40 783.89 847.74 784.72 847.82" stroke="#ff0000" stroke-width="1.95"/>
</g>
<g fill="none" stroke="#000" stroke-width="1.6">
<rect x="56.05" y="539.40" width="336.45" height="448.45"/>
<rect x="452.20" y="539.40" width="336.45" height="448.45"/>
<path d="M81.37 987.85v-5.70M81.37 539.40v5.70M96.18 987.85v-5.70M96.18 539.40v5.70M106.69 987.85v-5.70M106.69 539.40v5.70M114.84 987.85v-5.70M114.84 539.40v5.70M121.50 987.85v-5.70M121.50 539.40v5.70M127.13 987.85v-5.70M127.13 539.40v5.70M132.01 987.85v-5.70M132.01 539.40v5.70M136.31 987.85v-5.70M136.31 539.40v5.70M140.16 987.85v-11.20M140.16 539.40v11.20M165.48 987.85v-5.70M165.48 539.40v5.70M180.29 987.85v-5.70M180.29 539.40v5.70M190.80 987.85v-5.70M190.80 539.40v5.70M198.95 987.85v-5.70M198.95 539.40v5.70M205.61 987.85v-5.70M205.61 539.40v5.70M211.25 987.85v-5.70M211.25 539.40v5.70M216.12 987.85v-5.70M216.12 539.40v5.70M220.43 987.85v-5.70M220.43 539.40v5.70M224.27 987.85v-11.20M224.27 539.40v11.20M249.60 987.85v-5.70M249.60 539.40v5.70M264.41 987.85v-5.70M264.41 539.40v5.70M274.92 987.85v-5.70M274.92 539.40v5.70M283.07 987.85v-5.70M283.07 539.40v5.70M289.73 987.85v-5.70M289.73 539.40v5.70M295.36 987.85v-5.70M295.36 539.40v5.70M300.24 987.85v-5.70M300.24 539.40v5.70M304.54 987.85v-5.70M304.54 539.40v5.70M308.39 987.85v-11.20M308.39 539.40v11.20M333.71 987.85v-5.70M333.71 539.40v5.70M348.52 987.85v-5.70M348.52 539.40v5.70M359.03 987.85v-5.70M359.03 539.40v5.70M367.18 987.85v-5.70M367.18 539.40v5.70M373.84 987.85v-5.70M373.84 539.40v5.70M379.47 987.85v-5.70M379.47 539.40v5.70M384.35 987.85v-5.70M384.35 539.40v5.70M388.65 987.85v-5.70M388.65 539.40v5.70M56.05 639.06h11.2M392.50 639.06h-11.2M56.05 738.71h11.2M392.50 738.71h-11.2M56.05 838.37h11.2M392.50 838.37h-11.2M56.05 938.02h11.2M392.50 938.02h-11.2M56.05 962.94h5.7M392.50 962.94h-5.7M56.05 913.11h5.7M392.50 913.11h-5.7M56.05 888.19h5.7M392.50 888.19h-5.7M56.05 863.28h5.7M392.50 863.28h-5.7M56.05 813.45h5.7M392.50 813.45h-5.7M56.05 788.54h5.7M392.50 788.54h-5.7M56.05 763.62h5.7M392.50 763.62h-5.7M56.05 713.80h5.7M392.50 713.80h-5.7M56.05 688.88h5.7M392.50 688.88h-5.7M56.05 663.97h5.7M392.50 663.97h-5.7M56.05 614.14h5.7M392.50 614.14h-5.7M56.05 589.23h5.7M392.50 589.23h-5.7M56.05 564.31h5.7M392.50 564.31h-5.7"/>
<path d="M477.52 987.85v-5.70M477.52 539.40v5.70M492.33 987.85v-5.70M492.33 539.40v5.70M502.84 987.85v-5.70M502.84 539.40v5.70M510.99 987.85v-5.70M510.99 539.40v5.70M517.65 987.85v-5.70M517.65 539.40v5.70M523.28 987.85v-5.70M523.28 539.40v5.70M528.16 987.85v-5.70M528.16 539.40v5.70M532.46 987.85v-5.70M532.46 539.40v5.70M536.31 987.85v-11.20M536.31 539.40v11.20M561.63 987.85v-5.70M561.63 539.40v5.70M576.44 987.85v-5.70M576.44 539.40v5.70M586.95 987.85v-5.70M586.95 539.40v5.70M595.10 987.85v-5.70M595.10 539.40v5.70M601.76 987.85v-5.70M601.76 539.40v5.70M607.40 987.85v-5.70M607.40 539.40v5.70M612.27 987.85v-5.70M612.27 539.40v5.70M616.58 987.85v-5.70M616.58 539.40v5.70M620.42 987.85v-11.20M620.42 539.40v11.20M645.75 987.85v-5.70M645.75 539.40v5.70M660.56 987.85v-5.70M660.56 539.40v5.70M671.07 987.85v-5.70M671.07 539.40v5.70M679.22 987.85v-5.70M679.22 539.40v5.70M685.88 987.85v-5.70M685.88 539.40v5.70M691.51 987.85v-5.70M691.51 539.40v5.70M696.39 987.85v-5.70M696.39 539.40v5.70M700.69 987.85v-5.70M700.69 539.40v5.70M704.54 987.85v-11.20M704.54 539.40v11.20M729.86 987.85v-5.70M729.86 539.40v5.70M744.67 987.85v-5.70M744.67 539.40v5.70M755.18 987.85v-5.70M755.18 539.40v5.70M763.33 987.85v-5.70M763.33 539.40v5.70M769.99 987.85v-5.70M769.99 539.40v5.70M775.62 987.85v-5.70M775.62 539.40v5.70M780.50 987.85v-5.70M780.50 539.40v5.70M784.80 987.85v-5.70M784.80 539.40v5.70M452.20 614.14h11.2M788.65 614.14h-11.2M452.20 688.88h11.2M788.65 688.88h-11.2M452.20 763.62h11.2M788.65 763.62h-11.2M452.20 838.37h11.2M788.65 838.37h-11.2M452.20 913.11h11.2M788.65 913.11h-11.2M452.20 969.16h5.7M788.65 969.16h-5.7M452.20 950.48h5.7M788.65 950.48h-5.7M452.20 931.79h5.7M788.65 931.79h-5.7M452.20 894.42h5.7M788.65 894.42h-5.7M452.20 875.74h5.7M788.65 875.74h-5.7M452.20 857.05h5.7M788.65 857.05h-5.7M452.20 819.68h5.7M788.65 819.68h-5.7M452.20 801.00h5.7M788.65 801.00h-5.7M452.20 782.31h5.7M788.65 782.31h-5.7M452.20 744.94h5.7M788.65 744.94h-5.7M452.20 726.25h5.7M788.65 726.25h-5.7M452.20 707.57h5.7M788.65 707.57h-5.7M452.20 670.20h5.7M788.65 670.20h-5.7M452.20 651.51h5.7M788.65 651.51h-5.7M452.20 632.83h5.7M788.65 632.83h-5.7M452.20 595.46h5.7M788.65 595.46h-5.7M452.20 576.77h5.7M788.65 576.77h-5.7M452.20 558.09h5.7M788.65 558.09h-5.7"/>
</g>
<text x="46.55" y="546.30" font-size="19.8" text-anchor="end">0.6</text>
<text x="46.55" y="645.96" font-size="19.8" text-anchor="end">0.4</text>
<text x="46.55" y="745.61" font-size="19.8" text-anchor="end">0.2</text>
<text x="46.55" y="845.27" font-size="19.8" text-anchor="end">0</text>
<text x="46.55" y="944.92" font-size="19.8" text-anchor="end">-0.2</text>
<text x="442.70" y="546.30" font-size="19.8" text-anchor="end">4</text>
<text x="442.70" y="621.04" font-size="19.8" text-anchor="end">3</text>
<text x="442.70" y="695.78" font-size="19.8" text-anchor="end">2</text>
<text x="442.70" y="770.52" font-size="19.8" text-anchor="end">1</text>
<text x="442.70" y="845.27" font-size="19.8" text-anchor="end">0</text>
<text x="442.70" y="920.01" font-size="19.8" text-anchor="end">-1</text>
<text x="442.70" y="994.75" font-size="19.8" text-anchor="end">-2</text>
<text x="40.10" y="1020.60" font-size="19.8">10</text><text x="63.65" y="1007.80" font-size="15.5">-4</text><text x="124.21" y="1020.60" font-size="19.8">10</text><text x="147.76" y="1007.80" font-size="15.5">-3</text><text x="208.32" y="1020.60" font-size="19.8">10</text><text x="231.87" y="1007.80" font-size="15.5">-2</text><text x="292.44" y="1020.60" font-size="19.8">10</text><text x="315.99" y="1007.80" font-size="15.5">-1</text><text x="392.50" y="1020.60" font-size="19.8" text-anchor="middle">1</text>
<text x="436.25" y="1020.60" font-size="19.8">10</text><text x="459.80" y="1007.80" font-size="15.5">-4</text><text x="520.36" y="1020.60" font-size="19.8">10</text><text x="543.91" y="1007.80" font-size="15.5">-3</text><text x="604.47" y="1020.60" font-size="19.8">10</text><text x="628.02" y="1007.80" font-size="15.5">-2</text><text x="688.59" y="1020.60" font-size="19.8">10</text><text x="712.14" y="1007.80" font-size="15.5">-1</text><text x="788.65" y="1020.60" font-size="19.8" text-anchor="middle">1</text>

<text transform="translate(223.4 616.2) scale(1.07 1)" font-size="27.6">xc</text>
<text x="252.9" y="626.3" font-size="19.8">T,q</text>
<text transform="translate(279.7 616.2) scale(1.045 1)" font-size="27.6">(x)</text>
<g fill="none" stroke="#000">
<path d="M226.7 674 H266" stroke-width="2.7" stroke-linecap="round" stroke-dasharray="0 12.65"/>
<path d="M223.95 713.9 H264.1" stroke-width="1.75" stroke-dasharray="8.1 7.9"/>
<path d="M235.85 713.9 H264.1" stroke-width="2.7" stroke-linecap="round" stroke-dasharray="0 16"/>
</g>
<text x="279.3" y="680.9" font-size="21.3">NLO</text>
<text x="279.3" y="720.8" font-size="21.3">NNLO</text>
<g font-size="24">
<text transform="translate(81.7 958.8) scale(1.25 1.12)">α</text>
<text x="96.2" y="966.4" font-size="17.7">S</text>
<path d="M111.9 950.05H124.3M111.9 954.9H124.3" stroke="#000" stroke-width="1.5" fill="none"/>
<text x="130.5" y="958.7">0.12,</text>
<text x="190.4" y="958.7">N</text>
<text x="206.9" y="966.4" font-size="17.7">f</text>
<path d="M219.1 950.05H231.4M219.1 954.9H231.4" stroke="#000" stroke-width="1.5" fill="none"/>
<text x="237.9" y="958.7">5</text>
</g>
<text transform="translate(258.4 1032.5) scale(1.035 1)" font-size="27.6">x</text>
<text transform="translate(654.4 1034) scale(1.035 1)" font-size="27.6">x</text>
<text transform="translate(619.5 616.2) scale(1.07 1)" font-size="27.6">xc</text>
<text x="649.0" y="626.3" font-size="19.8">T,g</text>
<text transform="translate(676.2 616.2) scale(1.045 1)" font-size="27.6">(x)</text>
<g fill="none">
<path d="M592.8 670.3 H630" stroke="#0c980c" stroke-width="3.75" stroke-linecap="round" stroke-dasharray="0 8.74"/>
<path d="M590 703.3 H630.1" stroke="#0000ff" stroke-width="2.2" stroke-dasharray="8.2 7.75"/>
<path d="M590 736.1 H630.1" stroke="#ff0000" stroke-width="2.2"/>
</g>
<g font-size="20.8">
<text x="641.6" y="676.8">LL</text>
<text x="641.6" y="709.8">NLO</text><text x="687.2" y="709.8">+</text><text x="702.8" y="709.8">NLL</text>
<text x="641.6" y="742.8">NNLO</text><text x="702.2" y="742.8">+</text><text x="717.8" y="742.8">NNLL</text>
</g>

</svg></body></html>
